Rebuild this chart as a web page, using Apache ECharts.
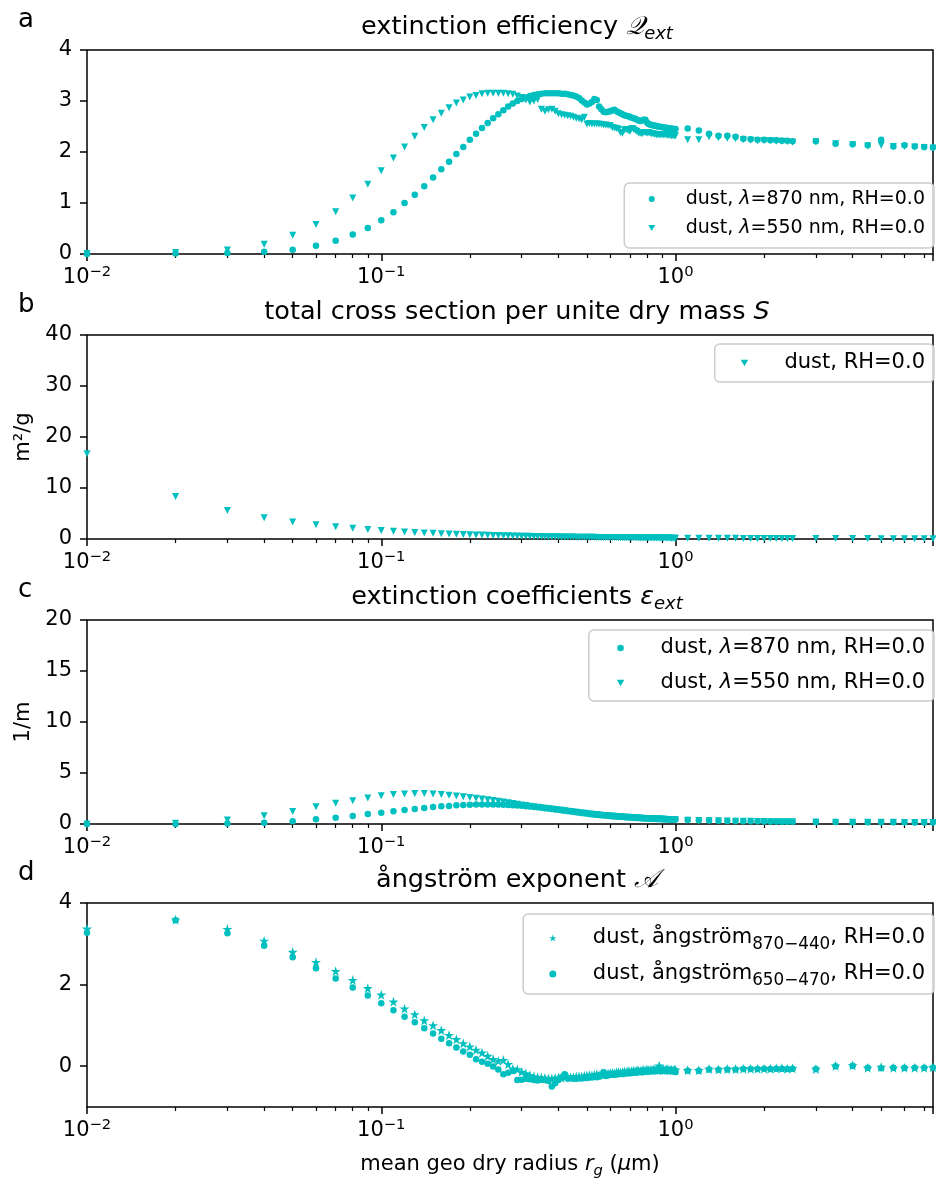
<!DOCTYPE html>
<html>
<head>
<meta charset="utf-8">
<script src="https://cdn.jsdelivr.net/npm/echarts@6/dist/echarts.min.js"></script>
<style>
  html, body { margin: 0; padding: 0; background: #fff; }
  #chart { width: 936px; height: 1180px; }
</style>
</head>
<body>
<div id="chart"></div>
<script>
// mean geo dry radius r_g (um)
var radius = [
  0.01, 0.02, 0.03, 0.04, 0.05, 0.06, 0.07, 0.08, 0.09, 0.10,
  0.11, 0.12, 0.13, 0.14, 0.15, 0.16, 0.17, 0.18, 0.19, 0.20,
  0.21, 0.22, 0.23, 0.24, 0.25, 0.26, 0.27, 0.28, 0.29, 0.30,
  0.31, 0.32, 0.33, 0.34, 0.35, 0.36, 0.37, 0.38, 0.39, 0.40,
  0.41, 0.42, 0.43, 0.44, 0.45, 0.46, 0.47, 0.48, 0.49, 0.50,
  0.51, 0.52, 0.53, 0.54, 0.55, 0.56, 0.57, 0.58, 0.59, 0.60,
  0.61, 0.62, 0.63, 0.64, 0.65, 0.66, 0.67, 0.68, 0.69, 0.70,
  0.71, 0.72, 0.73, 0.74, 0.75, 0.76, 0.77, 0.78, 0.79, 0.80,
  0.81, 0.82, 0.83, 0.84, 0.85, 0.86, 0.87, 0.88, 0.89, 0.90,
  0.91, 0.92, 0.93, 0.94, 0.95, 0.96, 0.97, 0.98, 0.99, 1.00,
  1.1, 1.2, 1.3, 1.4, 1.5, 1.6, 1.7, 1.8, 1.9, 2.0, 2.1, 2.2, 2.3, 2.4, 2.5,
  3.0, 3.5, 4.0, 4.5, 5.0, 5.5, 6.0, 6.5, 7.0, 7.5
];

// a: extinction efficiency
var qext870 = [
  0.00, 0.01, 0.02, 0.045, 0.085, 0.16, 0.26, 0.38, 0.51, 0.66,
  0.82, 1.00, 1.16, 1.33, 1.50, 1.66, 1.81, 1.96, 2.10, 2.24,
  2.36, 2.47, 2.57, 2.66, 2.74, 2.82, 2.89, 2.95, 3.00, 3.04,
  3.07, 3.10, 3.12, 3.13, 3.14, 3.15, 3.15, 3.15, 3.15, 3.15,
  3.14, 3.14, 3.13, 3.12, 3.11, 3.09, 3.06, 3.01, 2.97, 2.93,
  2.95, 2.98, 3.04, 3.02, 2.89, 2.84, 2.79, 2.78, 2.79, 2.80,
  2.82, 2.83, 2.80, 2.78, 2.76, 2.74, 2.72, 2.71, 2.70, 2.69,
  2.67, 2.66, 2.65, 2.63, 2.62, 2.61, 2.62, 2.63, 2.63, 2.58,
  2.55, 2.54, 2.53, 2.52, 2.52, 2.51, 2.50, 2.50, 2.49, 2.49,
  2.48, 2.48, 2.47, 2.47, 2.46, 2.46, 2.46, 2.45, 2.45, 2.45,
  2.46, 2.42, 2.36, 2.32, 2.32, 2.30, 2.26, 2.25, 2.24, 2.24, 2.23, 2.23, 2.22, 2.22, 2.21,
  2.21, 2.16, 2.15, 2.13, 2.24, 2.11, 2.13, 2.11, 2.10, 2.09
];
var qext550 = [
  0.01, 0.03, 0.08, 0.19, 0.37, 0.58, 0.83, 1.10, 1.37, 1.63,
  1.88, 2.10, 2.31, 2.48, 2.63, 2.76, 2.87, 2.96, 3.02, 3.08,
  3.11, 3.14, 3.15, 3.15, 3.15, 3.15, 3.14, 3.13, 3.10, 3.07,
  3.02, 2.98, 3.00, 3.03, 2.84, 2.80, 2.83, 2.84, 2.80, 2.75,
  2.73, 2.72, 2.71, 2.70, 2.68, 2.66, 2.65, 2.63, 2.68, 2.55,
  2.56, 2.55, 2.55, 2.55, 2.55, 2.54, 2.53, 2.53, 2.52, 2.52,
  2.48, 2.47, 2.46, 2.45, 2.38, 2.37, 2.43, 2.44, 2.42, 2.40,
  2.46, 2.45, 2.42, 2.40, 2.37, 2.37, 2.36, 2.38, 2.38, 2.37,
  2.38, 2.37, 2.36, 2.36, 2.35, 2.34, 2.34, 2.34, 2.34, 2.34,
  2.34, 2.34, 2.34, 2.33, 2.33, 2.33, 2.32, 2.32, 2.32, 2.32,
  2.24, 2.24, 2.30, 2.28, 2.27, 2.26, 2.24, 2.23, 2.22, 2.22, 2.22, 2.21, 2.21, 2.20, 2.19,
  2.20, 2.16, 2.14, 2.12, 2.13, 2.11, 2.11, 2.10, 2.09, 2.08
];

// b: total cross section per unit dry mass (m2/g)
var massCross = [
  16.7, 8.35, 5.57, 4.18, 3.34, 2.78, 2.39, 2.09, 1.86, 1.67,
  1.52, 1.39, 1.28, 1.19, 1.11, 1.04, 0.98, 0.93, 0.88, 0.84,
  0.80, 0.76, 0.73, 0.70, 0.67, 0.64, 0.62, 0.60, 0.58, 0.56,
  0.54, 0.52, 0.51, 0.49, 0.48, 0.46, 0.45, 0.44, 0.43, 0.42,
  0.41, 0.40, 0.39, 0.38, 0.37, 0.36, 0.36, 0.35, 0.34, 0.33,
  0.33, 0.32, 0.32, 0.31, 0.30, 0.30, 0.29, 0.29, 0.28, 0.28,
  0.27, 0.27, 0.27, 0.26, 0.26, 0.25, 0.25, 0.25, 0.24, 0.24,
  0.24, 0.23, 0.23, 0.23, 0.22, 0.22, 0.22, 0.21, 0.21, 0.21,
  0.21, 0.20, 0.20, 0.20, 0.20, 0.19, 0.19, 0.19, 0.19, 0.19,
  0.18, 0.18, 0.18, 0.18, 0.18, 0.17, 0.17, 0.17, 0.17, 0.17,
  0.16, 0.15, 0.14, 0.14, 0.13, 0.13, 0.12, 0.12, 0.12, 0.11, 0.11, 0.11, 0.10, 0.10, 0.10,
  0.09, 0.09, 0.08, 0.08, 0.07, 0.07, 0.06, 0.06, 0.06, 0.05
];

// c: extinction coefficients (1/m)
var ext870 = [
  0.00, 0.01, 0.04, 0.12, 0.28, 0.46, 0.62, 0.78, 0.98, 1.11,
  1.24, 1.37, 1.47, 1.57, 1.67, 1.73, 1.77, 1.83, 1.86, 1.89,
  1.90, 1.91, 1.91, 1.91, 1.90, 1.89, 1.87, 1.85, 1.82, 1.79,
  1.75, 1.71, 1.67, 1.63, 1.59, 1.55, 1.51, 1.47, 1.43, 1.39,
  1.35, 1.31, 1.27, 1.23, 1.19, 1.15, 1.12, 1.08, 1.05, 1.02,
  0.99, 0.96, 0.94, 0.91, 0.89, 0.87, 0.85, 0.83, 0.81, 0.79,
  0.77, 0.76, 0.74, 0.72, 0.71, 0.70, 0.68, 0.67, 0.66, 0.64,
  0.63, 0.62, 0.61, 0.60, 0.59, 0.58, 0.57, 0.56, 0.55, 0.55,
  0.54, 0.53, 0.52, 0.52, 0.51, 0.50, 0.50, 0.49, 0.48, 0.48,
  0.47, 0.47, 0.46, 0.46, 0.45, 0.45, 0.44, 0.44, 0.43, 0.43,
  0.39, 0.36, 0.34, 0.32, 0.30, 0.29, 0.28, 0.27, 0.26, 0.25, 0.24, 0.24, 0.23, 0.23, 0.22,
  0.20, 0.19, 0.18, 0.17, 0.17, 0.16, 0.16, 0.15, 0.15, 0.15
];
var ext550 = [
  0.00, 0.08, 0.38, 0.80, 1.22, 1.70, 2.03, 2.29, 2.55, 2.78,
  2.88, 2.94, 3.00, 3.00, 2.94, 2.88, 2.81, 2.74, 2.68, 2.61,
  2.53, 2.46, 2.38, 2.31, 2.23, 2.15, 2.08, 2.01, 1.94, 1.87,
  1.81, 1.75, 1.70, 1.64, 1.59, 1.55, 1.50, 1.46, 1.42, 1.38,
  1.34, 1.30, 1.26, 1.22, 1.18, 1.15, 1.11, 1.08, 1.05, 1.01,
  0.98, 0.96, 0.93, 0.91, 0.88, 0.86, 0.84, 0.82, 0.80, 0.78,
  0.76, 0.75, 0.73, 0.71, 0.70, 0.69, 0.67, 0.66, 0.65, 0.63,
  0.62, 0.61, 0.60, 0.59, 0.58, 0.57, 0.56, 0.55, 0.54, 0.54,
  0.53, 0.52, 0.51, 0.51, 0.50, 0.49, 0.49, 0.48, 0.47, 0.47,
  0.46, 0.46, 0.45, 0.45, 0.44, 0.44, 0.43, 0.43, 0.42, 0.42,
  0.37, 0.35, 0.33, 0.31, 0.29, 0.28, 0.27, 0.26, 0.25, 0.24, 0.23, 0.23, 0.22, 0.22, 0.21,
  0.19, 0.18, 0.17, 0.17, 0.16, 0.16, 0.15, 0.15, 0.14, 0.14
];

// d: angstrom exponent
var ang870440 = [
  3.37, 3.59, 3.36, 3.07, 2.80, 2.55, 2.33, 2.11, 1.91, 1.75,
  1.58, 1.41, 1.27, 1.12, 1.00, 0.88, 0.76, 0.66, 0.56, 0.48,
  0.40, 0.33, 0.25, 0.17, 0.13, 0.15, 0.05, -0.06, -0.08, -0.14,
  -0.18, -0.22, -0.25, -0.27, -0.28, -0.29, -0.30, -0.30, -0.29, -0.28,
  -0.28, -0.27, -0.26, -0.28, -0.27, -0.26, -0.25, -0.26, -0.24, -0.23,
  -0.22, -0.23, -0.21, -0.20, -0.22, -0.18, -0.19, -0.20, -0.18, -0.17,
  -0.16, -0.17, -0.15, -0.14, -0.16, -0.15, -0.13, -0.14, -0.12, -0.13,
  -0.12, -0.11, -0.13, -0.10, -0.11, -0.12, -0.10, -0.09, -0.11, -0.08,
  -0.10, -0.09, -0.10, -0.08, -0.09, -0.08, -0.10, 0.01, -0.07, -0.09,
  -0.08, -0.10, -0.07, -0.09, -0.08, -0.10, -0.09, -0.11, -0.08, -0.09,
  -0.10, -0.10, -0.07, -0.08, -0.07, -0.07, -0.06, -0.06, -0.06, -0.06, -0.06, -0.05, -0.05, -0.06, -0.05,
  -0.07, 0.01, 0.02, -0.04, -0.02, -0.04, -0.04, -0.04, -0.04, -0.03
];
var ang650470 = [
  3.27, 3.58, 3.26, 2.95, 2.67, 2.40, 2.15, 1.93, 1.73, 1.54,
  1.37, 1.21, 1.08, 0.93, 0.80, 0.67, 0.56, 0.46, 0.36, 0.28,
  0.17, 0.11, 0.06, -0.01, -0.08, -0.20, -0.16, -0.12, -0.34, -0.33,
  -0.31, -0.32, -0.34, -0.35, -0.33, -0.34, -0.36, -0.50, -0.42, -0.34,
  -0.27, -0.20, -0.30, -0.29, -0.30, -0.31, -0.29, -0.30, -0.28, -0.29,
  -0.27, -0.28, -0.26, -0.27, -0.25, -0.22, -0.15, -0.24, -0.22, -0.21,
  -0.20, -0.21, -0.19, -0.20, -0.18, -0.19, -0.17, -0.18, -0.16, -0.17,
  -0.16, -0.15, -0.16, -0.11, -0.14, -0.15, -0.13, -0.14, -0.12, -0.13,
  -0.12, -0.13, -0.11, -0.12, -0.10, -0.12, -0.11, -0.10, -0.12, -0.11,
  -0.10, -0.11, -0.10, -0.12, -0.11, -0.10, -0.11, -0.12, -0.10, -0.14,
  -0.11, -0.11, -0.08, -0.09, -0.08, -0.08, -0.07, -0.07, -0.07, -0.06, -0.07, -0.06, -0.06, -0.07, -0.06,
  -0.07, 0.00, 0.01, -0.04, -0.05, -0.04, -0.04, -0.04, -0.04, -0.03
];

// tick labels
var xTickVals = [0.01, 0.1, 1];
var xTickExps = ['\u22122', '\u22121', '0'];
var xMinorTicks = [0.02, 0.03, 0.04, 0.05, 0.06, 0.07, 0.08, 0.09,
  0.2, 0.3, 0.4, 0.5, 0.6, 0.7, 0.8, 0.9, 2, 3, 4, 5, 6, 7];
var yTicksA = [0, 1, 2, 3, 4];
var yTicksB = [0, 10, 20, 30, 40];
var yTicksC = [0, 5, 10, 15, 20];
var yTicksD = [0, 2, 4];

var legendText = {
  qext870: 'dust, {i|\u03bb}=870 nm, RH=0.0',
  qext550: 'dust, {i|\u03bb}=550 nm, RH=0.0',
  massCross: 'dust, RH=0.0',
  ext870: 'dust, {i|\u03bb}=870 nm, RH=0.0',
  ext550: 'dust, {i|\u03bb}=550 nm, RH=0.0',
  ang870440: 'dust, \u00e5ngstr\u00f6m{s|870\u2212440}, RH=0.0',
  ang650470: 'dust, \u00e5ngstr\u00f6m{s|650\u2212470}, RH=0.0'
};

var FONT = 'DejaVu Sans';
var CYAN = '#00bfbf';
var TRI = 'path://M0,0L10,0L5,8.7Z';
var STAR = 'path://M50,0L61.2,34.5L97.6,34.5L68.2,55.9L79.4,90.5L50,69.1L20.6,90.5L31.8,55.9L2.4,34.5L38.8,34.5Z';

// legend layout: font size, row line height, gap, padding, handle width, text shift
var legA = { top: 183, fs: 19, lh: 24, gap: 5, pad: [4, 9, 8, 24], w: 38, shift: 10, icon: 6, sub: 0.7 };
var legB = { top: 344, fs: 21, lh: 26, gap: 7, pad: [6, 9, 6, 26], w: 42, shift: 14, icon: 6.5, sub: 0.7 };
var legC = { top: 630, fs: 21, lh: 26, gap: 9, pad: [5, 9, 5, 28], w: 42, shift: 14, icon: 6.5, sub: 0.7 };
var legD = { top: 914, fs: 21, lh: 30, gap: 6, pad: [9, 9, 5, 26], w: 42, shift: 14, icon: 7, sub: 0.8 };

var panels = [
  { letter: 'a', title: '{t|extinction efficiency }{m|\ud835\udcac}{s|ext}', top: 50,
    yMin: 0, yMax: 4, yTicks: yTicksA, yName: '',
    series: [['qext870', qext870, 'circle', 6.5], ['qext550', qext550, TRI, 7]], legend: legA },
  { letter: 'b', title: '{t|total cross section per unite dry mass }{m|S}', top: 335,
    yMin: 0, yMax: 40, yTicks: yTicksB, yName: 'm\u00b2/g',
    series: [['massCross', massCross, TRI, 7]], legend: legB },
  { letter: 'c', title: '{t|extinction coefficients }{m|\u03b5}{s|ext}', top: 620,
    yMin: 0, yMax: 20, yTicks: yTicksC, yName: '1/m',
    series: [['ext870', ext870, 'circle', 6.5], ['ext550', ext550, TRI, 7]], legend: legC },
  { letter: 'd', title: '{t|\u00e5ngstr\u00f6m exponent }{m|\ud835\udc9c}', top: 903,
    yMin: -1, yMax: 4, yTicks: yTicksD, yName: '',
    series: [['ang870440', ang870440, STAR, 10], ['ang650470', ang650470, 'circle', 6.5]], legend: legD }
];

function fmtX(v) {
  for (var k = 0; k < xTickVals.length; k++) {
    if (Math.abs(v / xTickVals[k] - 1) < 1e-6) return '{b|10}{s|' + xTickExps[k] + '}';
  }
  return '';
}

var titleRich = {
  t: { fontSize: 25.5, fontFamily: FONT, fontWeight: 'normal', color: '#000', lineHeight: 32 },
  m: { fontSize: 25.5, fontFamily: FONT, fontWeight: 'normal', fontStyle: 'italic', color: '#000', lineHeight: 32 },
  s: { fontSize: 18, fontFamily: FONT, fontWeight: 'normal', fontStyle: 'italic', color: '#000', lineHeight: 17, verticalAlign: 'bottom' }
};
var tickLine = { color: '#000', width: 1.5 };

var grids = [], xAxes = [], yAxes = [], series = [], titles = [], legends = [];

panels.forEach(function (p, i) {
  grids.push({ left: 87, top: p.top, width: 850, height: 204, show: true,
    borderColor: '#000', borderWidth: 1.5, backgroundColor: 'transparent' });

  var xa = {
    type: 'log', logBase: 10, gridIndex: i, position: 'bottom', min: 0.01, max: 7.5,
    axisLine: { show: false, onZero: false },
    axisTick: { show: true, length: 7, lineStyle: tickLine },
    axisLabel: { show: true, margin: 11, formatter: fmtX, color: '#000',
      rich: {
        b: { fontSize: 21, fontFamily: FONT, color: '#000', lineHeight: 26 },
        s: { fontSize: 14.7, fontFamily: FONT, color: '#000', lineHeight: 14, verticalAlign: 'top' }
      } },
    splitLine: { show: false }
  };
  if (i === 3) {
    xa.name = '{t|mean geo dry radius }{i|r}{s|g}{t| (}{i|\u03bc}{t|m)}';
    xa.nameLocation = 'middle';
    xa.nameGap = 44;
    xa.nameTextStyle = { rich: {
      t: { fontSize: 21, fontFamily: FONT, color: '#000', lineHeight: 28 },
      i: { fontSize: 21, fontFamily: FONT, fontStyle: 'italic', color: '#000', lineHeight: 28 },
      s: { fontSize: 14.7, fontFamily: FONT, fontStyle: 'italic', color: '#000', lineHeight: 14, verticalAlign: 'bottom' }
    } };
  }
  xAxes.push(xa);
  xAxes.push({
    type: 'log', logBase: 10, gridIndex: i, position: 'bottom', min: 0.01, max: 7.5,
    axisLine: { show: false, onZero: false },
    axisLabel: { show: false },
    axisTick: { show: true, length: 4, customValues: xMinorTicks, lineStyle: { color: '#000', width: 1.2 } },
    splitLine: { show: false }
  });

  yAxes.push({
    type: 'value', gridIndex: i, position: 'left', min: p.yMin, max: p.yMax,
    axisLine: { show: false, onZero: false },
    axisTick: { show: true, length: 7, customValues: p.yTicks, lineStyle: tickLine },
    axisLabel: { customValues: p.yTicks, margin: 15, fontSize: 21, fontFamily: FONT, color: '#000' },
    splitLine: { show: false },
    name: p.yName, nameLocation: 'middle', nameRotate: 90, nameGap: 50,
    nameTextStyle: { fontSize: 21, fontFamily: FONT, color: '#000' }
  });

  var names = [];
  p.series.forEach(function (s) {
    series.push({
      type: 'scatter', name: s[0], xAxisIndex: 2 * i, yAxisIndex: i,
      data: radius.map(function (r, k) { return [r, s[1][k]]; }),
      symbol: s[2], symbolSize: s[3], clip: false,
      itemStyle: { color: CYAN, opacity: 1 },
      emphasis: { disabled: true }
    });
    names.push({ name: s[0], icon: s[2] });
  });

  titles.push({ text: p.title, left: 512, textAlign: 'center', top: p.top - 44,
    textStyle: { rich: titleRich } });
  titles.push({ text: p.letter, left: 13, top: p.top - 48,
    textStyle: { fontSize: 26, fontFamily: FONT, fontWeight: 'normal', color: '#000' } });

  var L = p.legend;
  legends.push({
    orient: 'vertical', right: 2, top: L.top,
    itemWidth: L.w, itemHeight: L.icon, itemGap: L.gap,
    padding: L.pad,
    borderColor: '#cccccc', borderWidth: 1.5, borderRadius: 5,
    backgroundColor: 'rgba(255,255,255,0.8)',
    selectedMode: false,
    data: names,
    formatter: function (n) { return legendText[n]; },
    textStyle: { fontSize: L.fs, fontFamily: FONT, color: '#000', lineHeight: L.lh, padding: [0, 0, 0, L.shift],
      rich: {
        i: { fontSize: L.fs, fontFamily: FONT, fontStyle: 'italic', color: '#000', lineHeight: L.lh },
        s: { fontSize: L.fs * L.sub, fontFamily: FONT, color: '#000', lineHeight: L.fs * 0.7, verticalAlign: 'bottom' }
      } }
  });
});

var chart = echarts.init(document.getElementById('chart'), null, { renderer: 'canvas' });
chart.setOption({
  backgroundColor: '#fff',
  animation: false,
  textStyle: { fontFamily: FONT },
  title: titles,
  legend: legends,
  grid: grids,
  xAxis: xAxes,
  yAxis: yAxes,
  series: series
});
window.addEventListener('resize', chart.resize);
</script>
</body>
</html>
